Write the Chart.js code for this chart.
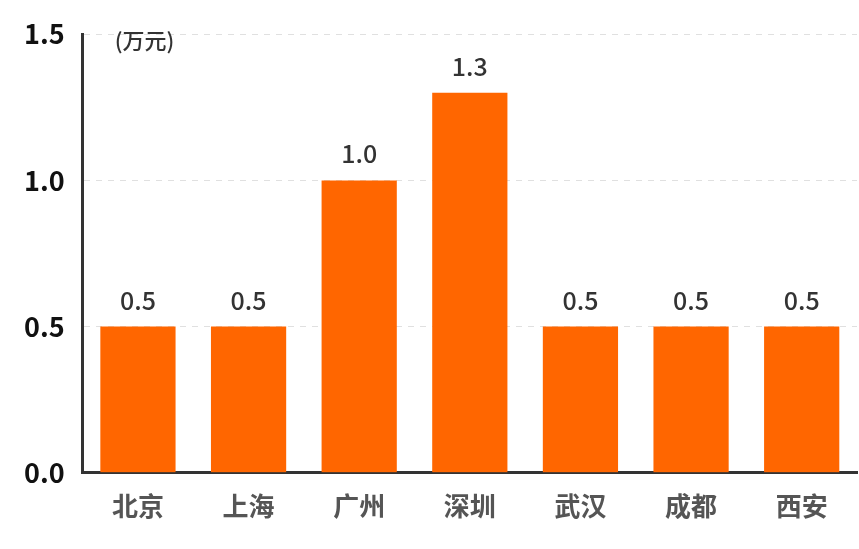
<!DOCTYPE html>
<html><head><meta charset="utf-8">
<script src="https://cdn.jsdelivr.net/npm/chart.js@4/dist/chart.umd.min.js"></script>
<style>html,body{margin:0;padding:0;background:#fff}#w{width:859px;height:549px}</style>
</head><body><div id="w"><canvas id="c"></canvas></div>
<script>
const categories = ["北京","上海","广州","深圳","武汉","成都","西安"];
const values = [0.5,0.5,1.0,1.3,0.5,0.5,0.5];
const yTicks = [0,0.5,1.0,1.5];
const unitLabel = "(万元)";
const F = '"Noto Sans CJK SC","Noto Sans",sans-serif';
const labels = {
  id:'lbl',
  afterDatasetsDraw(ch){
    const ctx=ch.ctx, m=ch.getDatasetMeta(0);
    ctx.save();
    ctx.font='500 25px '+F; ctx.fillStyle='#333'; ctx.textAlign='center'; ctx.textBaseline='bottom';
    m.data.forEach((b,i)=>ctx.fillText(values[i].toFixed(1),b.x,b.y-14));
    ctx.font='500 22px '+F; ctx.textAlign='left'; ctx.textBaseline='middle';
    ctx.fillText(unitLabel,ch.scales.x.left+32,ch.scales.y.getPixelForValue(1.5)+6);
    ctx.restore();
  }
};
new Chart(document.getElementById('c'),{
  type:'bar',
  data:{labels:categories,datasets:[{data:values,backgroundColor:'#ff6600',barPercentage:0.68,categoryPercentage:1}]},
  options:{
    responsive:true,maintainAspectRatio:false,animation:false,
    layout:{padding:{left:6,right:2,top:29,bottom:17}},
    plugins:{legend:{display:false},tooltip:{enabled:false}},
    scales:{
      x:{grid:{display:false},border:{color:'#333',width:3},
         ticks:{color:'#555',font:{family:F,size:26,weight:'bold'},padding:10}},
      y:{min:0,max:1.5,afterBuildTicks(a){a.ticks=yTicks.map(v=>({value:v}));},
         grid:{color:'#e0e0e0',drawTicks:false,lineWidth:1},
         border:{color:'#333',width:3,dash:[6,6]},
         ticks:{color:'#111',font:{family:F,size:27,weight:'bold'},padding:18,callback:v=>v.toFixed(1)}}
    }
  },
  plugins:[labels]
});
</script></body></html>
